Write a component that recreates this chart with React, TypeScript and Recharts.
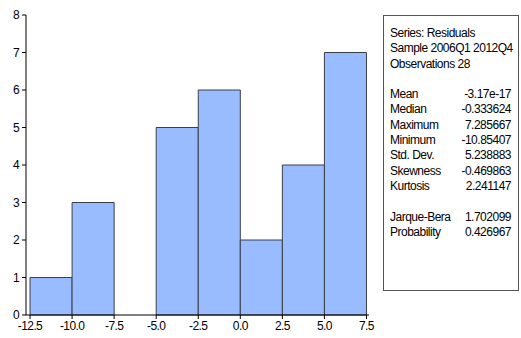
import { ComposedChart, XAxis, YAxis, ReferenceArea, Scatter } from 'recharts';

// histogram bins (left edge, right edge, count)
const binStarts = [-12.5, -10.0, -7.5, -5.0, -2.5, 0.0, 2.5, 5.0];
const binWidth = 2.5;
const counts = [1, 3, 0, 5, 6, 2, 4, 7];

const xTicks = [-12.5, -10.0, -7.5, -5.0, -2.5, 0.0, 2.5, 5.0, 7.5];
const yTicks = [0, 1, 2, 3, 4, 5, 6, 7, 8];

const statHeader = ['Series: Residuals', 'Sample 2006Q1 2012Q4', 'Observations 28'];
const statLabels = ['Mean', 'Median', 'Maximum', 'Minimum', 'Std. Dev.', 'Skewness', 'Kurtosis'];
const statValues = ['-3.17e-17', '-0.333624', '7.285667', '-10.85407', '5.238883', '-0.469863', '2.241147'];
const testLabels = ['Jarque-Bera', 'Probability'];
const testValues = ['1.702099', '0.426967'];

const FONT = '"Liberation Sans Narrow", "Liberation Sans", Arial, sans-serif';

const data = binStarts.map((start, i) => ({
  start,
  end: start + binWidth,
  mid: start + binWidth / 2,
  count: counts[i],
}));

function StatRow({ label, value }: { label: string; value: string }) {
  return (
    <div style={{ display: 'flex', justifyContent: 'space-between', height: 15.3, lineHeight: '15.3px' }}>
      <span>{label}</span>
      <span>{value}</span>
    </div>
  );
}

const tickStyle = { fill: '#000', fontSize: 12, fontFamily: FONT, letterSpacing: '-0.6px' };

export default function App() {
  return (
    <div style={{ position: 'absolute', left: 0, top: 0, width: 521, height: 338, background: '#fff' }}>
      <ComposedChart
        width={375}
        height={338}
        data={data}
        margin={{ top: 15, right: 6, left: 0, bottom: 0 }}
      >
        <XAxis
          type="number"
          dataKey="mid"
          domain={[-12.74, 7.65]}
          ticks={xTicks}
          interval={0}
          allowDataOverflow
          height={23}
          tickSize={4}
          tickMargin={2}
          stroke="#000"
          tickFormatter={(v: number) => v.toFixed(1)}
          tick={tickStyle}
        />
        <YAxis
          type="number"
          domain={[0, 8]}
          ticks={yTicks}
          interval={0}
          width={26}
          tickSize={4}
          tickMargin={3}
          stroke="#000"
          tick={tickStyle}
        />
        {data.map((d) => (
          <ReferenceArea
            key={d.start}
            x1={d.start}
            x2={d.end}
            y1={0}
            y2={d.count}
            fill="#99bbff"
            fillOpacity={1}
            stroke="#3a3f4a"
            strokeWidth={1}
            ifOverflow="visible"
          />
        ))}
        <ReferenceArea fill="none" stroke="#000" strokeWidth={1.5} ifOverflow="visible" />
        <Scatter dataKey="count" isAnimationActive={false} shape={() => null} />
      </ComposedChart>
      <div
        style={{
          position: 'absolute',
          left: 383,
          top: 15,
          width: 136,
          height: 276,
          border: '1px solid #555',
          boxSizing: 'border-box',
          padding: '10px 7px 0 6px',
          fontFamily: FONT,
          fontSize: 12,
          letterSpacing: '-0.5px',
          whiteSpace: 'nowrap',
          color: '#000',
        }}
      >
        {statHeader.map((t) => (
          <div key={t} style={{ height: 15.3, lineHeight: '15.3px' }}>{t}</div>
        ))}
        <div style={{ height: 15.3 }} />
        {statLabels.map((l, i) => (
          <StatRow key={l} label={l} value={statValues[i]} />
        ))}
        <div style={{ height: 15.3 }} />
        {testLabels.map((l, i) => (
          <StatRow key={l} label={l} value={testValues[i]} />
        ))}
      </div>
    </div>
  );
}
